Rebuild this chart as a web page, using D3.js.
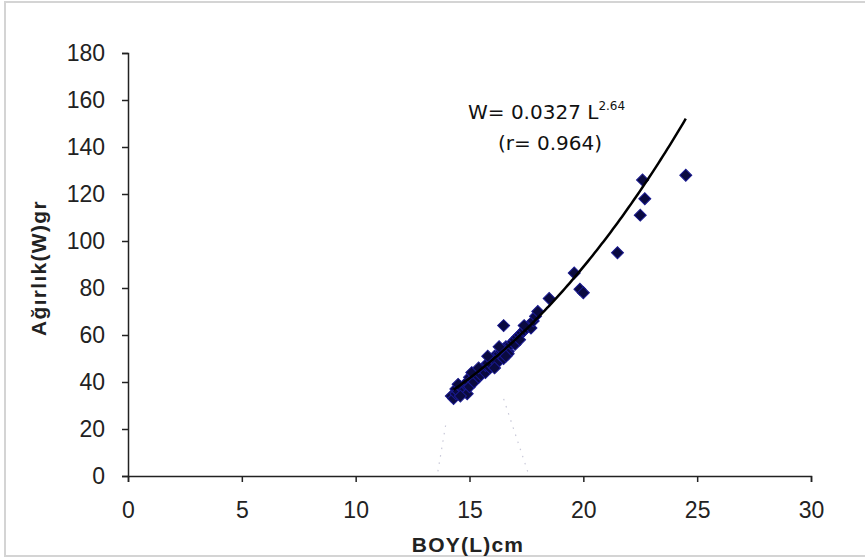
<!DOCTYPE html>
<html>
<head>
<meta charset="utf-8">
<script src="https://cdn.jsdelivr.net/npm/d3@7"></script>
<style>
  body { margin: 0; background: #fff; }
  svg text { font-family: "Liberation Sans", Arial, sans-serif; }
</style>
</head>
<body>
<svg id="chart" width="865" height="560"></svg>
<script>
// BOY (L, cm) and Ağırlık (W, gr)
var boy = [14.2, 14.3, 14.4, 14.4, 14.5, 14.6, 14.7, 14.8, 14.9, 14.9,
    15.0, 15.0, 15.1, 15.2, 15.2, 15.3, 15.4, 15.5, 15.5, 15.6,
    15.7, 15.7, 15.8, 15.9, 16.0, 16.0, 16.1, 16.2, 16.2, 16.3,
    16.4, 16.4, 16.5, 16.5, 16.6, 16.7, 16.8, 16.9, 17.0, 17.0,
    17.1, 17.2, 17.3, 17.4, 17.5, 17.6, 17.7, 17.8, 17.9, 18.0,
    14.5, 14.6, 15.1, 15.4, 15.8, 16.1, 16.3, 16.7, 17.2, 17.4,
    16.5, 16.6, 18.5, 19.6, 19.85, 20.0, 21.5, 22.5, 22.6, 22.7, 24.5];
var agirlik = [34, 33, 35, 37, 36, 38, 37, 39, 35, 40,
    42, 38, 41, 43, 40, 44, 42, 45, 43, 46,
    44, 47, 48, 46, 49, 47, 51, 50, 48, 52,
    53, 51, 54, 50, 55, 53, 56, 57, 58, 56,
    59, 60, 61, 62, 63, 64, 63, 66, 68, 70,
    39, 34, 44, 46, 51, 46, 55, 52, 58, 64,
    64, 51, 75.5, 86.4, 79.5, 78, 95, 111, 126, 118, 128];

// fitted curve W = a L^b
var fitA = 0.0327, fitB = 2.64;
var fitRange = [14.3, 24.5];

// faint dotted guide lines near the bottom of the cluster
var guideLeft = [[13.95, 21.5], [13.6, 1.3]];
var guideRight = [[16.5, 32.8], [17.57, 1.5]];

var xTicks = [0, 5, 10, 15, 20, 25, 30];
var yTicks = [0, 20, 40, 60, 80, 100, 120, 140, 160, 180];

var svg = d3.select('#chart');

// outer frame
svg.append('rect')
    .attr('x', 5)
    .attr('y', 2)
    .attr('width', 862)
    .attr('height', 554)
    .attr('fill', 'none')
    .attr('stroke', '#d4d4d4')
    .attr('stroke-width', 2);

var x = d3.scaleLinear().domain([0, 30]).range([128, 811]);
var y = d3.scaleLinear().domain([0, 180]).range([476, 53]);

// axes
var xAxis = svg.append('g')
    .attr('transform', 'translate(0,' + y(0) + ')')
    .call(d3.axisBottom(x).tickValues(xTicks).tickSize(6).tickSizeOuter(6).tickPadding(20));
var yAxis = svg.append('g')
    .attr('transform', 'translate(' + x(0) + ',0)')
    .call(d3.axisLeft(y).tickValues(yTicks).tickSize(6).tickSizeOuter(6).tickPadding(17));

[xAxis, yAxis].forEach(function(g) {
    g.selectAll('path, line').attr('stroke', '#222').attr('stroke-width', 1.5);
    g.selectAll('text')
        .attr('fill', '#222')
        .style('font-size', '23px');
});

// dotted guides
var line = d3.line()
    .x(function(d) { return x(d[0]); })
    .y(function(d) { return y(d[1]); });

svg.selectAll('path.guide')
    .data([guideLeft, guideRight])
    .join('path')
    .classed('guide', true)
    .attr('d', line)
    .attr('fill', 'none')
    .attr('stroke', '#c8c8d8')
    .attr('stroke-width', 1.2)
    .attr('stroke-dasharray', '1.5,6');

// scatter points
var points = boy.map(function(b, i) { return [b, agirlik[i]]; });
var diamond = d3.symbol().type(d3.symbolSquare).size(72);

svg.selectAll('path.pt')
    .data(points)
    .join('path')
    .classed('pt', true)
    .attr('transform', function(d) {
        return 'translate(' + x(d[0]) + ',' + y(d[1]) + ')rotate(45)';
    })
    .attr('d', diamond)
    .attr('fill', '#0a0a40')
    .attr('stroke', '#1a1a90')
    .attr('stroke-width', 1);

// fitted curve
var curveData = d3.range(fitRange[0], fitRange[1] + 0.001, 0.1).map(function(L) {
    return [L, fitA * Math.pow(L, fitB)];
});
svg.append('path')
    .attr('d', line(curveData))
    .attr('fill', 'none')
    .attr('stroke', '#000')
    .attr('stroke-width', 2.5);

// equation label
var eq = svg.append('text')
    .attr('x', 468)
    .attr('y', 119)
    .attr('fill', '#111')
    .style('font-family', '"DejaVu Sans", sans-serif')
    .style('font-size', '20px');
eq.append('tspan').text('W= 0.0327 L');
eq.append('tspan')
    .attr('dy', -9)
    .style('font-size', '12px')
    .text('2.64');

svg.append('text')
    .attr('x', 550)
    .attr('y', 150)
    .attr('text-anchor', 'middle')
    .attr('fill', '#111')
    .style('font-family', '"DejaVu Sans", sans-serif')
    .style('font-size', '20px')
    .text('(r= 0.964)');

// axis titles
svg.append('text')
    .attr('x', 468)
    .attr('y', 552)
    .attr('text-anchor', 'middle')
    .attr('fill', '#222')
    .style('font-size', '21px')
    .style('font-weight', 'bold')
    .style('letter-spacing', '1.2px')
    .text('BOY(L)cm');

svg.append('text')
    .attr('transform', 'translate(46,268)rotate(-90)')
    .attr('text-anchor', 'middle')
    .attr('fill', '#222')
    .style('font-size', '21px')
    .style('font-weight', 'bold')
    .style('letter-spacing', '1.3px')
    .text('Ağırlık(W)gr');
</script>
</body>
</html>
